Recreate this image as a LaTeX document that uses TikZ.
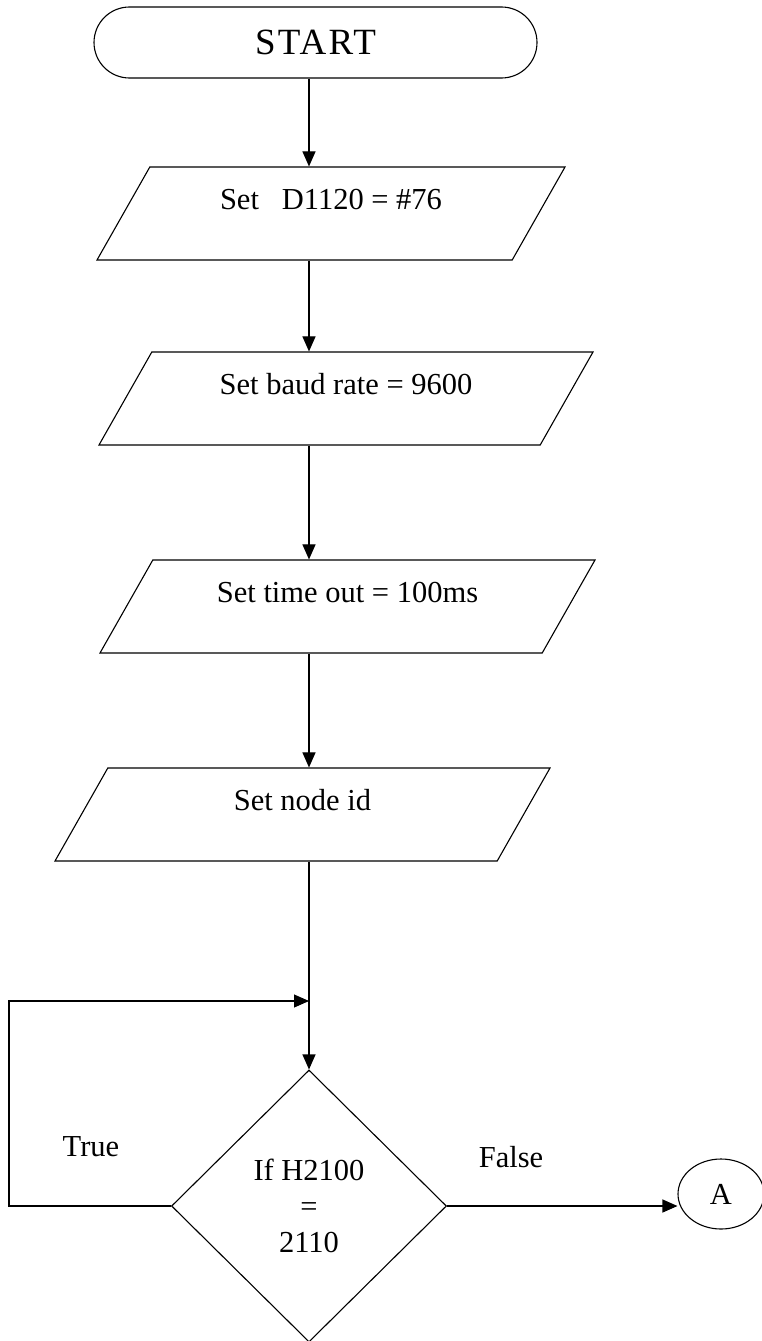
\documentclass[tikz,border=0pt]{standalone}
\usepackage{fontspec}
\setmainfont{Liberation Serif}
\usetikzlibrary{shapes.geometric, shapes.misc, arrows.meta}

\tikzset{
    flowline/.style={line width=1.1pt},
    flowarrow/.style={flowline, -{Triangle[length=15pt, width=13pt]}},
    terminal/.style={rounded rectangle, draw, flowline, minimum width=443pt, minimum height=71pt, inner sep=0pt, font=\fontsize{37}{44}\selectfont\addfontfeature{LetterSpace=6}},
    iobox/.style={trapezium, trapezium left angle=44, trapezium right angle=136, trapezium stretches body, draw, flowline, minimum height=93pt, inner sep=0pt, text height=21pt, text depth=30pt, font=\fontsize{30.5}{36}\selectfont},
    decision/.style={diamond, draw, flowline, minimum width=275pt, minimum height=272pt, inner sep=0pt, align=center, font=\fontsize{30.5}{36}\selectfont},
    offpage/.style={ellipse, draw, flowline, minimum width=86pt, minimum height=70pt, inner sep=0pt, font=\fontsize{30.5}{36}\selectfont},
    branch/.style={font=\fontsize{30.5}{36}\selectfont}
}

\begin{document}
\begin{tikzpicture}[x=1pt, y=-1pt]
    \useasboundingbox (0,0) rectangle (762,1341);

    \coordinate (spine) at (309,0);
    \coordinate (loopx) at (9,0);

    \node[terminal] (start) at (315.5,42.5) {START};

    \node[iobox, minimum width=468pt] (setaddr) at (331,213.5) {Set \ \ D1120 = \#76};
    \node[iobox, minimum width=494pt] (setbaud) at (346,398.5) {Set baud rate = 9600};
    \node[iobox, minimum width=495pt] (settime) at (347.5,606.5) {Set time out = 100ms};
    \node[iobox, minimum width=495pt] (setnode) at (302.5,814.5) {Set node id};

    \node[decision] (chkreg) at (309,1206) {If H2100\\=\\2110};
    \node[offpage] (conA) at (721,1194) {A};

    \node[branch] (truelbl) at (91,1147) {True};
    \node[branch] (falselbl) at (511,1157) {False};

    \coordinate (merge) at (spine |- 0,1001);

    \draw[flowarrow] (start.south -| spine) -- (setaddr.north -| spine);
    \draw[flowarrow] (setaddr.south -| spine) -- (setbaud.north -| spine);
    \draw[flowarrow] (setbaud.south -| spine) -- (settime.north -| spine);
    \draw[flowarrow] (settime.south -| spine) -- (setnode.north -| spine);
    \draw[flowarrow] (setnode.south -| spine) -- (chkreg.north);

    % true: back to the top of the test
    \draw[flowarrow] (chkreg.west) -- (chkreg.west -| loopx) |- (merge);
    % false
    \draw[flowarrow] (chkreg.east) -- (chkreg.east -| conA.west);

\end{tikzpicture}
\end{document}
